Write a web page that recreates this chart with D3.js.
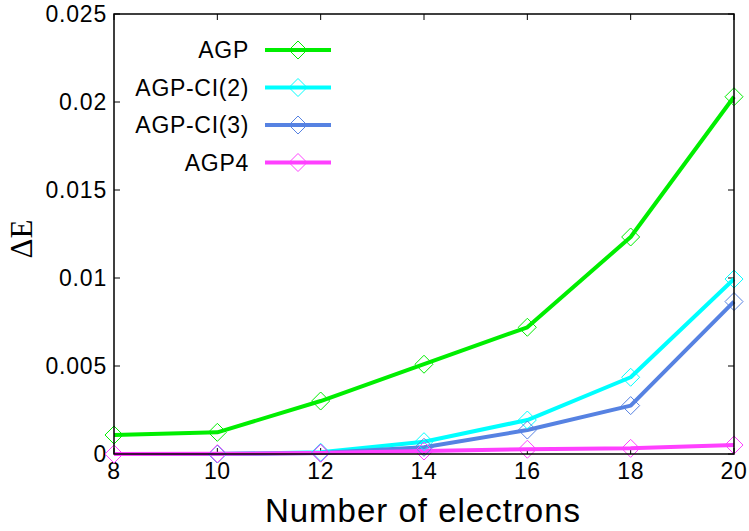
<!DOCTYPE html>
<html>
<head>
<meta charset="utf-8">
<script src="https://cdn.jsdelivr.net/npm/d3@7"></script>
<style>
  body { margin: 0; background: #fff; }
  svg { display: block; font-family: "Liberation Sans", Arial, Helvetica, sans-serif; }
</style>
</head>
<body>
<svg id="chart" width="749" height="531"></svg>
<script>
// data
const electrons = [8, 10, 12, 14, 16, 18, 20];
const agp     = [0.00108, 0.00123, 0.00301, 0.0051, 0.0072, 0.01233, 0.0203];
const agpCI2  = [0.0, 0.0, 0.0001, 0.0007, 0.00193, 0.00436, 0.00994];
const agpCI3  = [0.0, 0.0, 0.00005, 0.00038, 0.00136, 0.00275, 0.00866];
const agp4    = [0.0, 0.00002, 0.00005, 0.00017, 0.00027, 0.00032, 0.00051];
const seriesNames = ['AGP', 'AGP-CI(2)', 'AGP-CI(3)', 'AGP4'];
const seriesColors = ['#00ee00', '#00ffff', '#5682e2', '#ff40ff'];
const xTicks = [8, 10, 12, 14, 16, 18, 20];
const yTicks = [0, 0.005, 0.01, 0.015, 0.02, 0.025];
const yTickLabels = ['0', '0.005', '0.01', '0.015', '0.02', '0.025'];

const series = [agp, agpCI2, agpCI3, agp4];

const margin = {top: 14, right: 15, bottom: 77, left: 114};
const width = 749 - margin.left - margin.right;
const height = 531 - margin.top - margin.bottom;

const svg = d3.select('#chart');
const g = svg.append('g').attr('transform', 'translate(' + margin.left + ',' + margin.top + ')');

const x = d3.scaleLinear().domain([8, 20]).range([0, width]);
const y = d3.scaleLinear().domain([0, 0.025]).range([height, 0]);

// ticks on all four sides, pointing in
const tickLen = 6;
g.selectAll('.xt').data(xTicks).enter().append('line')
  .attr('x1', d => x(d)).attr('x2', d => x(d))
  .attr('y1', height).attr('y2', height - tickLen)
  .attr('stroke', '#000');
g.selectAll('.xtt').data(xTicks).enter().append('line')
  .attr('x1', d => x(d)).attr('x2', d => x(d))
  .attr('y1', 0).attr('y2', tickLen)
  .attr('stroke', '#000');
g.selectAll('.yt').data(yTicks).enter().append('line')
  .attr('x1', 0).attr('x2', tickLen)
  .attr('y1', d => y(d)).attr('y2', d => y(d))
  .attr('stroke', '#000');
g.selectAll('.ytr').data(yTicks).enter().append('line')
  .attr('x1', width).attr('x2', width - tickLen)
  .attr('y1', d => y(d)).attr('y2', d => y(d))
  .attr('stroke', '#000');

// tick labels
g.selectAll('.xl').data(xTicks).enter().append('text')
  .attr('x', d => x(d)).attr('y', height + 25)
  .attr('text-anchor', 'middle').attr('font-size', '23px')
  .attr('letter-spacing', '0.6px')
  .text(d => d);
g.selectAll('.yl').data(yTicks).enter().append('text')
  .attr('x', -7).attr('y', d => y(d) + 8)
  .attr('text-anchor', 'end').attr('font-size', '23px')
  .attr('letter-spacing', '0.8px')
  .text((d, i) => yTickLabels[i]);

// lines and markers
const line = d3.line()
  .x((d, i) => x(electrons[i]))
  .y(d => y(d));

const diamond = s => 'M0,' + (-s) + 'L' + s + ',0L0,' + s + 'L' + (-s) + ',0Z';

series.forEach((vals, k) => {
  g.append('path')
    .datum(vals)
    .attr('fill', 'none')
    .attr('stroke', seriesColors[k])
    .attr('stroke-width', 4)
    .attr('stroke-linejoin', 'round')
    .attr('d', line);
});
series.forEach((vals, k) => {
  g.selectAll('.m' + k).data(vals).enter().append('path')
    .attr('transform', (d, i) => 'translate(' + x(electrons[i]) + ',' + y(d) + ')')
    .attr('d', diamond(9))
    .attr('fill', 'none')
    .attr('stroke', seriesColors[k])
    .attr('stroke-width', 1);
});

// frame
g.append('rect')
  .attr('width', width).attr('height', height)
  .attr('fill', 'none').attr('stroke', '#000').attr('stroke-width', 1.5);

// legend
const legend = svg.append('g');
seriesNames.forEach((name, k) => {
  const ly = 50 + k * 37.5;
  legend.append('text')
    .attr('x', 249).attr('y', ly + 8)
    .attr('text-anchor', 'end').attr('font-size', '23px')
    .attr('letter-spacing', '0.7px')
    .text(name);
  legend.append('line')
    .attr('x1', 265).attr('x2', 331)
    .attr('y1', ly).attr('y2', ly)
    .attr('stroke', seriesColors[k]).attr('stroke-width', 4);
  legend.append('path')
    .attr('transform', 'translate(298,' + ly + ')')
    .attr('d', diamond(9))
    .attr('fill', 'none')
    .attr('stroke', seriesColors[k])
    .attr('stroke-width', 1);
});

// axis titles
svg.append('text')
  .attr('x', margin.left + width / 2 - 1).attr('y', 522)
  .attr('text-anchor', 'middle').attr('font-size', '33px')
  .attr('letter-spacing', '1px')
  .text('Number of electrons');
svg.append('text')
  .attr('transform', 'translate(32,239) rotate(-90)')
  .attr('text-anchor', 'middle')
  .attr('font-family', '"Liberation Serif", "DejaVu Serif", serif')
  .attr('font-size', '31px')
  .text('ΔE');
</script>
</body>
</html>
